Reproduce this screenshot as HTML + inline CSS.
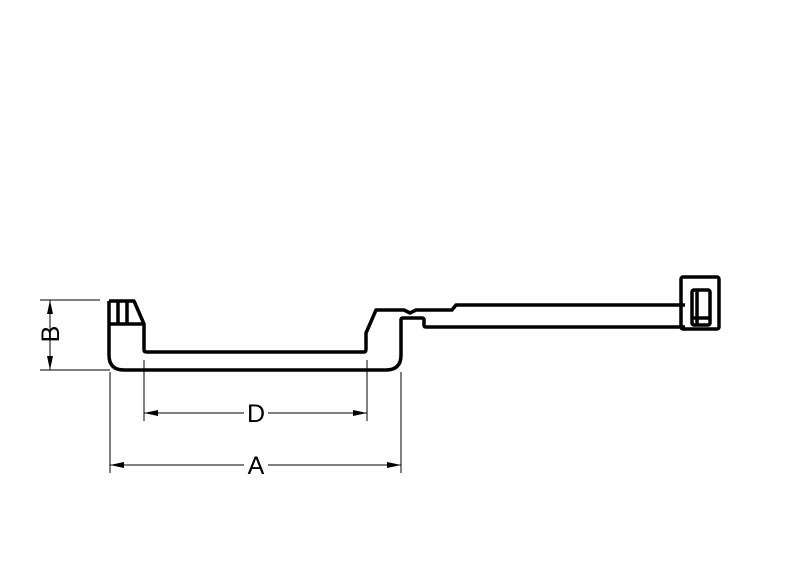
<!DOCTYPE html>
<html><head><style>body{margin:0;background:#fff}</style></head><body>
<svg width="800" height="576" viewBox="0 0 800 576" xmlns="http://www.w3.org/2000/svg">
<g fill="none" stroke="#000" stroke-width="3.5" stroke-linejoin="round">
<path d="M109,301 H134 L144,324 V350 Q144,352 147,352 H364 Q366,352 366,349 V333 L376,310 H404 L410,313 L416,310 H452 L456,305 H685"/>
<path d="M109,301 V355 Q109,370 124,370 H386 Q401,370 401,355 V320 Q401,318 403,318 H422 Q424,318 424,320 V325 Q424,327 426,327 H685"/>
<path d="M109,324 H144"/>
<path d="M118,301 V324 M127,301 V324"/>
<rect x="681" y="277" width="38" height="52" rx="2"/>
<rect x="692" y="290" width="18" height="35" rx="2"/>
<path d="M697,290 V325 M692,318 H710"/>
</g>
<g stroke="#000" stroke-width="1" fill="none">
<path d="M40,300 H100 M40,370 H110 M50,300 V370"/>
<path d="M144,360 V421 M367,360 V421 M144,413 H244 M268,413 H367"/>
<path d="M110,372 V473 M401,372 V473 M110,465 H244 M268,465 H401"/>
</g>
<g fill="#000">
<path d="M50,300 l-3,14 h6z M50,370 l-3,-14 h6z"/>
<path d="M144,413 l14,-3 v6z M367,413 l-14,-3 v6z"/>
<path d="M110,465 l14,-3 v6z M401,465 l-14,-3 v6z"/>
</g>
<g font-family="Liberation Sans, sans-serif" font-size="25" fill="#000" text-anchor="middle">
<text x="256" y="422">D</text>
<text x="256" y="474">A</text>
<text x="0" y="0" transform="translate(59,334) rotate(-90)">B</text>
</g>
</svg>
</body></html>
